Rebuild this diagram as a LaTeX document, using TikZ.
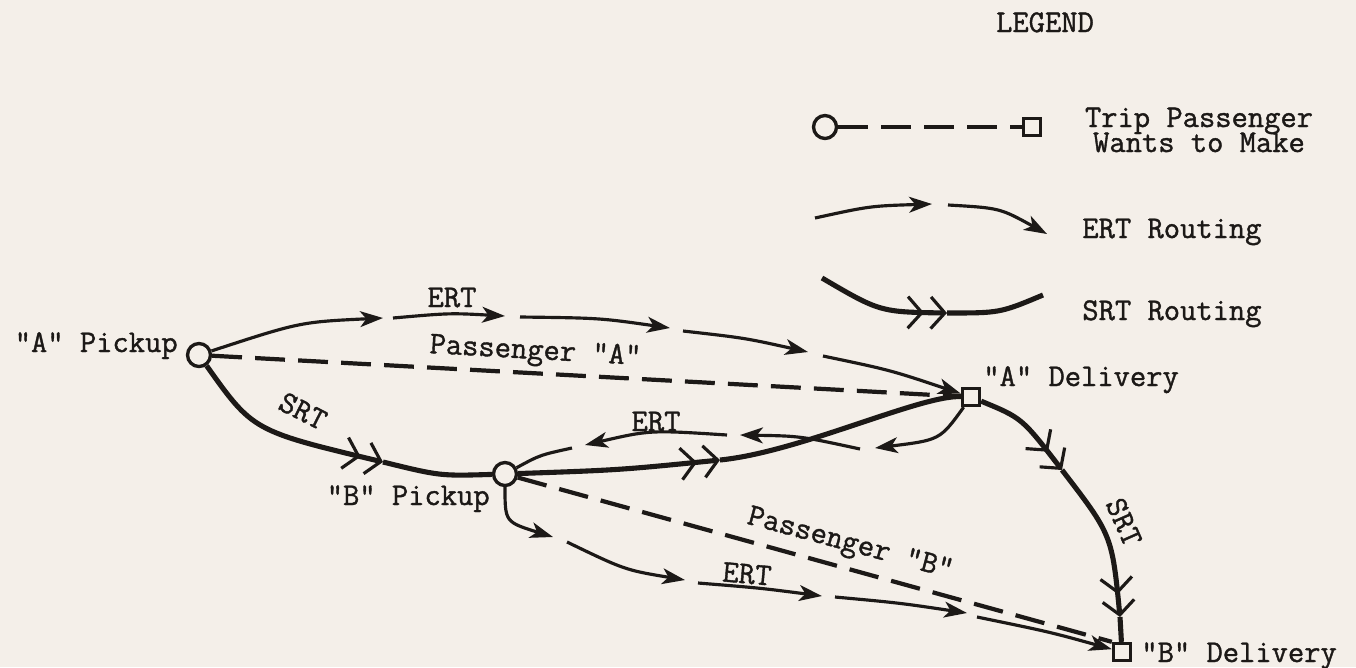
\documentclass[tikz,border=0pt]{standalone}
\usepackage{fontspec}
\usepackage{tikz}
\usetikzlibrary{arrows.meta}

\newfontfamily\typer{Latin Modern Mono}[FakeBold=1.2]

\definecolor{paper}{RGB}{244,239,233}
\definecolor{ink}{RGB}{28,25,23}

\tikzset{
  ertline/.style={ink, line width=1.8pt},
  ert/.style={ertline, -{Stealth[length=13pt,width=9pt,inset=3.5pt]}},
  srt/.style={ink, line width=2.9pt},
  srtarr/.style={srt, -{Straight Barb[length=8pt,width=18pt,line width=1.8pt,sep=3pt] Straight Barb[length=8pt,width=18pt,line width=1.8pt]}},
  trip/.style={ink, line width=2.4pt, dash pattern=on 17pt off 7.5pt},
  pickup/.style={circle, draw=ink, line width=1.9pt, minimum size=0.46cm, inner sep=0pt, fill=paper},
  delivery/.style={rectangle, draw=ink, line width=1.9pt, minimum size=0.34cm, inner sep=0pt, fill=paper},
  lbl/.style={ink, font=\fontsize{18}{14.5}\selectfont\typer, inner sep=0pt}
}

\begin{document}
\begin{tikzpicture}[x=0.02cm, y=-0.02cm]
        % paper
        \fill[paper] (0,0) rectangle (1356,667);
        \useasboundingbox (0,0) rectangle (1356,667);

        % pickup and delivery points
        \node[pickup] (apick) at (199,355) {};
        \node[pickup] (bpick) at (505,474) {};
        \node[delivery] (adel) at (971,397) {};
        \node[delivery] (bdel) at (1122,652) {};

        % write the point names
        \node[lbl, anchor=base east] (apicktxt) at (178,352) {"A" Pickup};
        \node[lbl, anchor=base east] (bpicktxt) at (490,505) {"B" Pickup};
        \node[lbl, anchor=base west] (adeltxt) at (983,386) {"A" Delivery};
        \node[lbl, anchor=base west] (bdeltxt) at (1141,662) {"B" Delivery};

        % trips the passengers want to make
        \draw[trip] (apick) -- (adel);
        \draw[trip] (bpick) -- (bdel.north west);
        \node[lbl, rotate=-3.2, anchor=base] (pasa) at (535,359) {Passenger "A"};
        \node[lbl, rotate=-15] (pasb) at (850,545) {Passenger "B"};

        % ERT from A pickup to A delivery
        \coordinate (ta1) at (383,318);
        \coordinate (ta2) at (393,318);
        \coordinate (ta3) at (505,316);
        \coordinate (ta4) at (520,317);
        \coordinate (ta5) at (670,328);
        \coordinate (ta6) at (683,331);
        \coordinate (ta7) at (808,352);
        \coordinate (ta8) at (823,356);
        \draw[ert] (apick) .. controls (300,322) .. (ta1);
        \draw[ert] (ta2) .. controls (450,313) .. (ta3);
        \draw[ert] (ta4) .. controls (600,318) .. (ta5);
        \draw[ert] (ta6) .. controls (745,338) .. (ta7);
        \draw[ert] (ta8) .. controls (890,370) .. (adel);
        \node[lbl, anchor=base] (ertatxt) at (452,307) {ERT};

        % ERT from A delivery back to B pickup
        \coordinate (eb1) at (875,448);
        \coordinate (eb2) at (860,449);
        \coordinate (eb3) at (740,435);
        \coordinate (eb4) at (727,435);
        \coordinate (eb5) at (585,445);
        \coordinate (eb6) at (572,448);
        \draw[ert] (adel) .. controls (940,440) .. (eb1);
        \draw[ert] (eb2) .. controls (800,436) .. (eb3);
        \draw[ert] (eb4) .. controls (650,430) .. (eb5);
        \draw[ertline] (eb6) .. controls (540,455) .. (bpick);
        \node[lbl, anchor=base] (ertbtxt) at (656,431) {ERT};

        % ERT from B pickup to B delivery
        \coordinate (ec1) at (553,537);
        \coordinate (ec2) at (567,542);
        \coordinate (ec3) at (685,580);
        \coordinate (ec4) at (698,583);
        \coordinate (ec5) at (822,596);
        \coordinate (ec6) at (835,597);
        \coordinate (ec7) at (967,613);
        \coordinate (ec8) at (977,617);
        \draw[ert] (bpick) .. controls (505,522) .. (ec1);
        \draw[ert] (ec2) .. controls (625,570) .. (ec3);
        \draw[ert] (ec4) .. controls (760,588) .. (ec5);
        \draw[ert] (ec6) .. controls (900,603) .. (ec7);
        \draw[ert] (ec8) .. controls (1050,632) .. (bdel);
        \node[lbl, rotate=-5] (ertctxt) at (747,574) {ERT};

        % SRT routing A pickup, B pickup, A delivery, B delivery
        \coordinate (sa1) at (383,462);
        \coordinate (sb1) at (720,460);
        \coordinate (sc1) at (1062,470);
        \coordinate (sc2) at (1120,617);
        \draw[srtarr] (apick) .. controls (253,431) .. (sa1);
        \draw[srt] (sa1) .. controls (440,476) .. (bpick);
        \draw[srtarr] (bpick) .. controls (620,470) .. (sb1);
        \draw[srt] (sb1) .. controls (800,452) and (920,395) .. (adel);
        \draw[srtarr] (adel) .. controls (1022,418) .. (sc1);
        \draw[srtarr] (sc1) .. controls (1112,535) .. (sc2);
        \draw[srt] (sc2) -- (bdel);
        \node[lbl, rotate=-27] (srtatxt) at (303,411) {SRT};
        \node[lbl, rotate=-66] (srtctxt) at (1124,522) {SRT};

        % legend
        \node[lbl, anchor=base] (legtxt) at (1045,32) {LEGEND};

        \node[pickup] (lgcirc) at (825,127) {};
        \node[delivery] (lgsq) at (1032,127) {};
        \draw[trip] (lgcirc) -- (lgsq);
        \node[lbl, anchor=base] (trip1) at (1199,127) {Trip Passenger};
        \node[lbl, anchor=base] (trip2) at (1199,152) {Wants to Make};

        \coordinate (lge1) at (815,218);
        \coordinate (lge2) at (932,204);
        \coordinate (lge3) at (948,205);
        \coordinate (lge4) at (1047,234);
        \draw[ert] (lge1) .. controls (870,206) .. (lge2);
        \draw[ert] (lge3) .. controls (1000,208) .. (lge4);
        \node[lbl, anchor=base west] (erttxt) at (1082,238) {ERT Routing};

        \coordinate (lgs1) at (822,278);
        \coordinate (lgs2) at (947,313);
        \coordinate (lgs3) at (1043,295);
        \draw[srtarr] (lgs1) .. controls (880,312) .. (lgs2);
        \draw[srt] (lgs2) .. controls (1000,313) .. (lgs3);
        \node[lbl, anchor=base west] (srttxt) at (1082,320) {SRT Routing};

\end{tikzpicture}
\end{document}
